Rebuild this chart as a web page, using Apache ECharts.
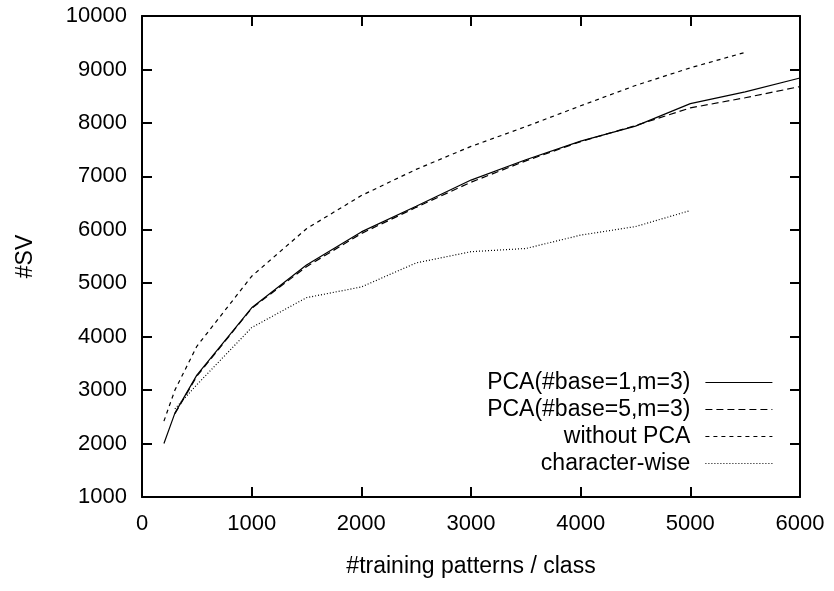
<!DOCTYPE html>
<html>
<head>
<meta charset="utf-8">
<script src="https://cdn.jsdelivr.net/npm/echarts@6/dist/echarts.min.js"></script>
<style>
  html, body { margin: 0; padding: 0; background: #fff; }
  #chart { width: 834px; height: 591px; }
</style>
</head>
<body>
<div id="chart"></div>
<script>
// Number of support vectors vs. training patterns per class
const seriesNames = ['PCA(#base=1,m=3)', 'PCA(#base=5,m=3)', 'without PCA', 'character-wise'];

const xPca1 = [200, 300, 500, 1000, 1500, 2000, 2500, 3000, 3500, 4000, 4500, 5000, 5500, 6000];
const yPca1 = [2000, 2570, 3280, 4540, 5340, 5960, 6440, 6930, 7310, 7660, 7940, 8360, 8580, 8840];

const xPca5 = [300, 500, 1000, 1500, 2000, 2500, 3000, 3500, 4000, 4500, 5000, 5500, 6000];
const yPca5 = [2560, 3260, 4530, 5310, 5930, 6420, 6890, 7290, 7650, 7950, 8280, 8470, 8680];

const xNoPca = [200, 300, 500, 1000, 1500, 2000, 2500, 3000, 3500, 4000, 4500, 5000, 5500];
const yNoPca = [2420, 3000, 3820, 5130, 6020, 6640, 7130, 7560, 7930, 8320, 8700, 9030, 9320];

const xChar = [300, 500, 1000, 1500, 2000, 2500, 3000, 3500, 4000, 4500, 5000];
const yChar = [2650, 3100, 4170, 4730, 4930, 5380, 5590, 5650, 5900, 6060, 6360];

const xTicks = [0, 1000, 2000, 3000, 4000, 5000, 6000];
const yTicks = [1000, 2000, 3000, 4000, 5000, 6000, 7000, 8000, 9000, 10000];

const pairs = (xs, ys) => xs.map((x, i) => [x, ys[i]]);

const FONT = '"Liberation Sans", Arial, Helvetica, sans-serif';
const dashTypes = ['solid', [7, 4], [4, 4], [1, 2]];
const seriesData = [pairs(xPca1, yPca1), pairs(xPca5, yPca5), pairs(xNoPca, yNoPca), pairs(xChar, yChar)];

const axisCommon = {
  type: 'value',
  axisLine: { show: true, onZero: false, lineStyle: { color: '#000', width: 2 } },
  axisTick: { show: true, inside: true, length: 10, lineStyle: { color: '#000', width: 2 } },
  splitLine: { show: false }
};

// one legend block per row so each text ends flush against its line sample
const legendTops = [378, 405, 432, 459];
const legends = seriesNames.map((name, i) => ({
  data: [name],
  right: 56,
  top: legendTops[i] - 12,
  align: 'right',
  orient: 'vertical',
  itemWidth: 67,
  itemHeight: 24,
  selectedMode: false,
  textStyle: { fontFamily: FONT, fontSize: 23, color: '#000', padding: [0, 10, 0, 0] },
  lineStyle: { color: '#000', width: 1.2, type: dashTypes[i] },
  itemStyle: { color: 'transparent', borderColor: 'transparent', borderWidth: 0, opacity: 0 }
}));

const chart = echarts.init(document.getElementById('chart'));
chart.setOption({
  animation: false,
  backgroundColor: '#fff',
  grid: { left: 142, right: 34, top: 16, bottom: 94, containLabel: false },
  legend: legends,
  xAxis: [
    Object.assign({}, axisCommon, {
      position: 'bottom',
      min: 0, max: 6000, interval: 1000,
      name: '#training patterns / class',
      nameLocation: 'middle',
      nameGap: 58,
      nameTextStyle: { fontFamily: FONT, fontSize: 23, color: '#000' },
      axisLabel: {
        fontFamily: FONT, fontSize: 22, color: '#000', margin: 16,
        formatter: v => (xTicks.includes(v) ? String(v) : '')
      }
    }),
    Object.assign({}, axisCommon, {
      position: 'top',
      min: 0, max: 6000, interval: 1000,
      axisLabel: { show: false }
    })
  ],
  yAxis: [
    Object.assign({}, axisCommon, {
      position: 'left',
      min: 1000, max: 10000, interval: 1000,
      name: '#SV',
      nameLocation: 'middle',
      nameRotate: 90,
      nameGap: 105,
      nameTextStyle: { fontFamily: FONT, fontSize: 23, color: '#000' },
      axisLabel: {
        fontFamily: FONT, fontSize: 22, color: '#000', margin: 15,
        formatter: v => (yTicks.includes(v) ? String(v) : '')
      }
    }),
    Object.assign({}, axisCommon, {
      position: 'right',
      min: 1000, max: 10000, interval: 1000,
      axisLabel: { show: false }
    })
  ],
  series: seriesNames.map((name, i) => ({
    name: name,
    type: 'line',
    xAxisIndex: 0,
    yAxisIndex: 0,
    data: seriesData[i],
    symbol: 'none',
    showSymbol: false,
    silent: true,
    lineStyle: { color: '#000', width: 1.2, type: dashTypes[i] },
    itemStyle: { color: '#000' },
    z: 3
  }))
});
</script>
</body>
</html>
